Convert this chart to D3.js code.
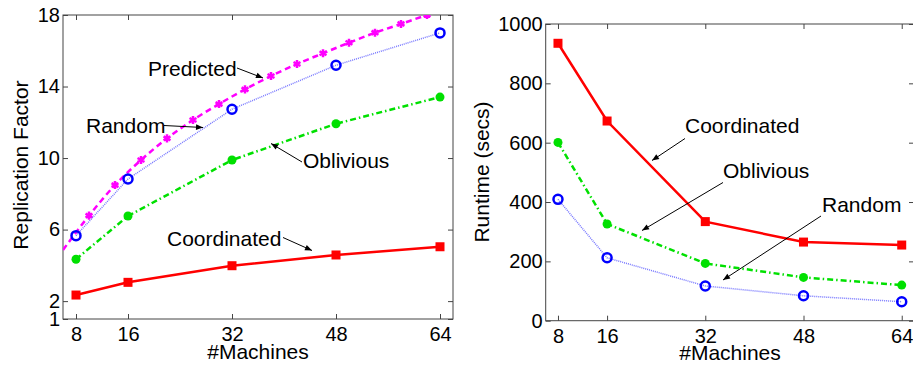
<!DOCTYPE html>
<html>
<head>
<meta charset="utf-8">
<script src="https://cdn.jsdelivr.net/npm/d3@7"></script>
<style>
  body { margin: 0; background: #fff; }
  svg { display: block; font-family: "Liberation Sans", Arial, sans-serif; }
  .axis path { display: none; }
  .axis line { stroke: #444; }
  .axis text { font-size: 20px; fill: #000; }
</style>
</head>
<body>
<svg id="chart"></svg>
<script>
// data
const machines = [8, 16, 32, 48, 64];
const xTicks = [8, 16, 32, 48, 64];

// left panel: replication factor
const repCoordinated = [2.34, 3.05, 3.98, 4.58, 5.04];
const repOblivious = [4.34, 6.76, 9.89, 11.92, 13.41];
const repRandom = [5.66, 8.83, 12.73, 15.19, 17.0];
const predictedX = [6, 10, 14, 18, 22, 26, 30, 34, 38, 42, 46, 50, 54, 58, 62, 66];
const predictedY = [4.86, 6.78, 8.49, 9.89, 11.1, 12.13, 13.02, 13.84, 14.59, 15.26, 15.86, 16.45, 17.01, 17.5, 18.0, 18.45];
const predictedMarkX = [10, 14, 18, 22, 26, 30, 34, 38, 42, 46, 50, 54, 58, 62];
const repTicks = [1, 2, 6, 10, 14, 18];

// right panel: runtime
const rtCoordinated = [935, 673, 334, 265, 255];
const rtOblivious = [601, 326, 193, 146, 120];
const rtRandom = [409, 212, 117, 84, 64];
const rtTicks = [0, 200, 400, 600, 800, 1000];

const svgWidth = 913, svgHeight = 365;
const svg = d3.select('#chart').attr('width', svgWidth).attr('height', svgHeight);

const defs = svg.append('defs');
defs.append('marker')
    .attr('id', 'arrow')
    .attr('viewBox', '0 0 10 10')
    .attr('refX', 10).attr('refY', 5)
    .attr('markerWidth', 9).attr('markerHeight', 7)
    .attr('markerUnits', 'userSpaceOnUse')
    .attr('orient', 'auto')
    .append('path').attr('d', 'M0,1 L10,5 L0,9 Z').attr('fill', '#000');

const styles = {
    coordinated: { color: '#ff0000', width: 2.5, dash: null },
    oblivious: { color: '#00e000', width: 2.5, dash: '6,3,1.5,3' },
    random: { color: '#7878ff', width: 1.5, dash: '1,1' },
    predicted: { color: '#ff00ff', width: 2.5, dash: '6,4' }
};

function panel(cfg) {
    const g = svg.append('g');
    const x = d3.scaleLinear().domain([6, 66]).range([cfg.left, cfg.right]);
    const y = d3.scaleLinear().domain(cfg.yDomain).range([cfg.bottom, cfg.top]);

    g.append('clipPath').attr('id', cfg.id + '-clip')
        .append('rect')
        .attr('x', cfg.left).attr('y', cfg.top)
        .attr('width', cfg.right - cfg.left).attr('height', cfg.bottom - cfg.top);

    // box + inward ticks on all four sides
    g.append('rect')
        .attr('x', cfg.left).attr('y', cfg.top)
        .attr('width', cfg.right - cfg.left).attr('height', cfg.bottom - cfg.top)
        .attr('fill', 'none').attr('stroke', '#444');

    g.append('g').attr('class', 'axis')
        .attr('transform', 'translate(0,' + cfg.bottom + ')')
        .call(d3.axisBottom(x).tickValues(xTicks).tickSizeInner(-5).tickSizeOuter(0).tickPadding(8));
    g.append('g').attr('class', 'axis')
        .attr('transform', 'translate(0,' + cfg.top + ')')
        .call(d3.axisTop(x).tickValues(xTicks).tickSizeInner(-5).tickSizeOuter(0).tickFormat(''));
    g.append('g').attr('class', 'axis')
        .attr('transform', 'translate(' + cfg.left + ',0)')
        .call(d3.axisLeft(y).tickValues(cfg.yTicks).tickFormat(d3.format('d'))
            .tickSizeInner(-5).tickSizeOuter(0).tickPadding(3));
    g.append('g').attr('class', 'axis')
        .attr('transform', 'translate(' + cfg.right + ',0)')
        .call(d3.axisRight(y).tickValues(cfg.yTicks).tickSizeInner(-5).tickSizeOuter(0).tickFormat(''));

    const plot = g.append('g').attr('clip-path', 'url(#' + cfg.id + '-clip)');

    cfg.series.forEach(s => {
        const st = styles[s.key];
        const pts = s.xs.map((v, i) => [v, s.ys[i]]);
        const line = d3.line().x(d => x(d[0])).y(d => y(d[1]))
            .curve(s.key === 'predicted' ? d3.curveMonotoneX : d3.curveLinear);
        plot.append('path')
            .attr('d', line(pts))
            .attr('fill', 'none')
            .attr('stroke', st.color)
            .attr('stroke-width', st.width)
            .attr('stroke-dasharray', st.dash);

        const marks = s.marks || pts;
        marks.forEach(d => {
            const cx = x(d[0]), cy = y(d[1]);
            if (s.key === 'coordinated') {
                g.append('rect').attr('x', cx - 4.5).attr('y', cy - 4.5)
                    .attr('width', 9).attr('height', 9).attr('fill', st.color);
            } else if (s.key === 'oblivious') {
                g.append('circle').attr('cx', cx).attr('cy', cy).attr('r', 4.5).attr('fill', st.color);
            } else if (s.key === 'random') {
                g.append('circle').attr('cx', cx).attr('cy', cy).attr('r', 4.5)
                    .attr('fill', 'none').attr('stroke', '#0000ff').attr('stroke-width', 2.5);
            } else {
                plot.append('path')
                    .attr('transform', 'translate(' + cx + ',' + cy + ')')
                    .attr('d', d3.symbol(d3.symbolAsterisk, 45)())
                    .attr('stroke', st.color).attr('stroke-width', 2.5);
            }
        });
    });

    // axis titles
    g.append('text')
        .attr('x', cfg.xTitle[0]).attr('y', cfg.xTitle[1])
        .attr('text-anchor', 'middle').attr('font-size', 21)
        .text('#Machines');
    g.append('text')
        .attr('transform', 'translate(' + cfg.yTitle[0] + ',' + cfg.yTitle[1] + ') rotate(-90)')
        .attr('text-anchor', 'middle').attr('font-size', 21)
        .text(cfg.yLabel);

    // annotations with arrows
    cfg.notes.forEach(n => {
        g.append('text').attr('x', n.tx).attr('y', n.ty)
            .attr('font-size', 21).text(n.label);
        g.append('line')
            .attr('x1', n.a[0]).attr('y1', n.a[1]).attr('x2', n.a[2]).attr('y2', n.a[3])
            .attr('stroke', '#000').attr('stroke-width', 1)
            .attr('marker-end', 'url(#arrow)');
    });
}

panel({
    id: 'rep', left: 63, right: 453, top: 15, bottom: 319,
    yDomain: [1, 18], yTicks: repTicks,
    yLabel: 'Replication Factor', yTitle: [28, 165], xTitle: [258, 359],
    series: [
        { key: 'predicted', xs: predictedX, ys: predictedY,
          marks: predictedMarkX.map(v => [v, predictedY[predictedX.indexOf(v)]]) },
        { key: 'random', xs: machines, ys: repRandom },
        { key: 'oblivious', xs: machines, ys: repOblivious },
        { key: 'coordinated', xs: machines, ys: repCoordinated }
    ],
    notes: [
        { label: 'Predicted', tx: 148, ty: 76, a: [237, 68, 263, 78] },
        { label: 'Random', tx: 86, ty: 133, a: [164, 125.5, 203, 127.5] },
        { label: 'Oblivious', tx: 303, ty: 168, a: [302, 162, 271, 143.5] },
        { label: 'Coordinated', tx: 167, ty: 246, a: [283, 237.5, 312, 250.5] }
    ]
});

panel({
    id: 'rt', left: 545.7, right: 914, top: 24, bottom: 320.7,
    yDomain: [0, 1000], yTicks: rtTicks,
    yLabel: 'Runtime (secs)', yTitle: [489, 172], xTitle: [730, 360],
    series: [
        { key: 'random', xs: machines, ys: rtRandom },
        { key: 'oblivious', xs: machines, ys: rtOblivious },
        { key: 'coordinated', xs: machines, ys: rtCoordinated }
    ],
    notes: [
        { label: 'Coordinated', tx: 685, ty: 133, a: [685, 138.5, 652, 160.5] },
        { label: 'Oblivious', tx: 723, ty: 177.5, a: [723, 182.5, 642, 230.5] },
        { label: 'Random', tx: 822, ty: 211.5, a: [821, 216, 723, 280] }
    ]
});
</script>
</body>
</html>
